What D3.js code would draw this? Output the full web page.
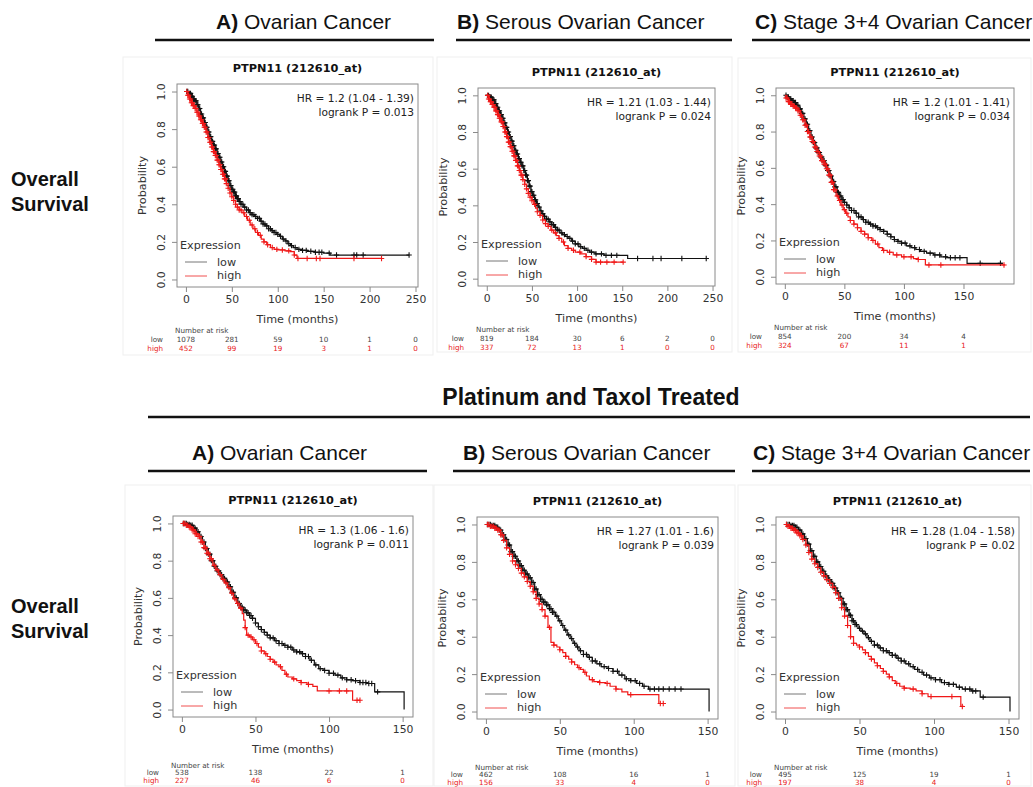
<!DOCTYPE html>
<html>
<head>
<meta charset="utf-8">
<script src="https://cdn.jsdelivr.net/npm/d3@7"></script>
<style>
  body { margin: 0; background: #fff; }
  svg { display: block; }
</style>
</head>
<body>
<svg id="fig" width="1033" height="787"></svg>
<script>
// ---------------- data ----------------
const cohortLabels = [["A)", " Ovarian Cancer"], ["B)", " Serous Ovarian Cancer"], ["C)", " Stage 3+4 Ovarian Cancer"]];
const treatmentLabel = "Platinum and Taxol Treated";
const endpointLabel = ["Overall", "Survival"];
const probeTitle = "PTPN11 (212610_at)";
const groupNames = ["low", "high"];

const yTicks = [0, 0.2, 0.4, 0.6, 0.8, 1.0];
const xTicksLong = [0, 50, 100, 150, 200, 250];
const xTicksShort = [0, 50, 100, 150];

const hrLabels = [
  "HR = 1.2 (1.04 - 1.39)", "HR = 1.21 (1.03 - 1.44)", "HR = 1.2 (1.01 - 1.41)",
  "HR = 1.3 (1.06 - 1.6)", "HR = 1.27 (1.01 - 1.6)", "HR = 1.28 (1.04 - 1.58)"
];
const pLabels = [
  "logrank P = 0.013", "logrank P = 0.024", "logrank P = 0.034",
  "logrank P = 0.011", "logrank P = 0.039", "logrank P = 0.02"
];

// number at risk, one entry per x tick
const osAllRiskLow = [1078, 281, 59, 10, 1, 0];
const osAllRiskHigh = [452, 99, 19, 3, 1, 0];
const osSerousRiskLow = [819, 184, 30, 6, 2, 0];
const osSerousRiskHigh = [337, 72, 13, 1, 0, 0];
const osStageRiskLow = [854, 200, 34, 4];
const osStageRiskHigh = [324, 67, 11, 1];
const ptAllRiskLow = [538, 138, 22, 1];
const ptAllRiskHigh = [227, 46, 6, 0];
const ptSerousRiskLow = [462, 108, 16, 1];
const ptSerousRiskHigh = [156, 33, 4, 0];
const ptStageRiskLow = [495, 125, 19, 1];
const ptStageRiskHigh = [197, 38, 4, 0];

// Kaplan-Meier steps: [time in months, survival after that time]
const osAllLow = [[0,1],[3,0.99],[6,0.975],[8,0.96],[10,0.95],[12,0.93],[14,0.91],[16,0.88],[18,0.86],[20,0.835],[22,0.81],[24,0.785],[26,0.76],[28,0.735],[30,0.715],[32,0.695],[34,0.67],[36,0.65],[38,0.625],[40,0.6],[42,0.575],[44,0.55],[46,0.525],[48,0.5],[50,0.48],[52,0.465],[54,0.445],[56,0.43],[58,0.415],[60,0.4],[63,0.385],[66,0.37],[69,0.355],[72,0.345],[75,0.335],[78,0.325],[81,0.31],[84,0.295],[87,0.285],[90,0.27],[93,0.26],[96,0.25],[99,0.24],[102,0.23],[105,0.215],[108,0.205],[111,0.19],[114,0.18],[117,0.17],[121,0.16],[126,0.155],[132,0.15],[140,0.145],[150,0.14],[157,0.13]];
const osAllHigh = [[0,1],[2,0.98],[4,0.96],[6,0.94],[8,0.925],[10,0.91],[12,0.89],[14,0.87],[16,0.85],[18,0.83],[20,0.81],[22,0.785],[24,0.755],[26,0.73],[28,0.705],[30,0.68],[32,0.66],[34,0.635],[36,0.61],[38,0.585],[40,0.56],[42,0.535],[44,0.51],[46,0.485],[48,0.46],[50,0.44],[52,0.42],[54,0.4],[56,0.385],[58,0.37],[61,0.355],[64,0.335],[67,0.315],[70,0.29],[73,0.27],[76,0.25],[79,0.235],[82,0.215],[85,0.2],[88,0.185],[92,0.17],[96,0.16],[100,0.157],[108,0.152],[114,0.148],[118,0.13],[121,0.112]];
const osSerousLow = [[0,1],[3,0.99],[6,0.975],[9,0.955],[11,0.935],[13,0.915],[15,0.895],[17,0.875],[19,0.85],[21,0.825],[23,0.8],[25,0.775],[27,0.75],[29,0.725],[31,0.7],[33,0.68],[35,0.655],[37,0.635],[39,0.615],[41,0.59],[43,0.565],[45,0.535],[47,0.505],[49,0.475],[51,0.455],[53,0.43],[55,0.41],[57,0.39],[59,0.37],[61,0.355],[63,0.34],[66,0.325],[69,0.31],[72,0.295],[75,0.28],[78,0.265],[81,0.25],[84,0.24],[87,0.23],[90,0.22],[94,0.205],[98,0.19],[102,0.175],[106,0.165],[110,0.155],[114,0.145],[120,0.135],[130,0.127],[156,0.11]];
const osSerousHigh = [[0,1],[2,0.98],[4,0.965],[6,0.95],[8,0.935],[10,0.915],[12,0.895],[14,0.875],[16,0.855],[18,0.83],[20,0.8],[22,0.775],[24,0.745],[26,0.72],[28,0.695],[30,0.67],[32,0.645],[34,0.615],[36,0.59],[38,0.565],[40,0.54],[42,0.515],[44,0.49],[46,0.465],[48,0.445],[50,0.425],[52,0.405],[54,0.385],[56,0.365],[59,0.345],[62,0.32],[65,0.3],[68,0.285],[71,0.265],[74,0.25],[77,0.235],[80,0.22],[83,0.2],[86,0.18],[90,0.165],[94,0.155],[98,0.145],[104,0.135],[110,0.12],[116,0.105],[121,0.09]];
const osStageLow = [[0,1],[2,0.99],[4,0.98],[6,0.97],[8,0.96],[10,0.945],[12,0.925],[14,0.9],[16,0.87],[18,0.84],[20,0.805],[22,0.77],[24,0.74],[26,0.71],[28,0.685],[30,0.66],[32,0.64],[34,0.615],[36,0.585],[38,0.555],[40,0.525],[42,0.495],[44,0.465],[46,0.445],[48,0.425],[50,0.41],[52,0.395],[54,0.38],[56,0.365],[59,0.35],[62,0.33],[65,0.315],[68,0.3],[71,0.29],[74,0.28],[77,0.27],[80,0.26],[83,0.25],[86,0.235],[89,0.22],[92,0.205],[95,0.195],[98,0.185],[102,0.17],[106,0.16],[110,0.15],[114,0.14],[119,0.13],[125,0.12],[131,0.11],[136,0.105],[153,0.074]];
const osStageHigh = [[0,1],[1,0.985],[3,0.965],[5,0.95],[7,0.94],[9,0.93],[11,0.915],[13,0.89],[15,0.865],[17,0.835],[19,0.8],[21,0.77],[23,0.745],[25,0.715],[27,0.69],[29,0.665],[31,0.64],[33,0.62],[35,0.595],[37,0.56],[39,0.52],[41,0.48],[43,0.445],[45,0.42],[47,0.395],[49,0.37],[51,0.35],[53,0.33],[55,0.31],[58,0.29],[61,0.27],[64,0.25],[67,0.235],[70,0.215],[73,0.2],[76,0.18],[79,0.16],[82,0.145],[86,0.135],[91,0.12],[98,0.11],[108,0.1],[112,0.095],[118,0.065]];
const ptAllLow = [[0,1],[4,0.995],[6,0.99],[8,0.975],[10,0.955],[12,0.93],[14,0.9],[16,0.865],[18,0.835],[20,0.8],[22,0.77],[24,0.745],[26,0.725],[28,0.705],[30,0.685],[32,0.66],[34,0.63],[36,0.6],[38,0.57],[40,0.55],[42,0.535],[44,0.52],[46,0.505],[48,0.49],[50,0.465],[52,0.445],[54,0.43],[56,0.415],[58,0.4],[60,0.385],[63,0.37],[66,0.355],[69,0.345],[72,0.335],[75,0.32],[78,0.31],[81,0.3],[84,0.285],[87,0.265],[90,0.24],[93,0.22],[96,0.21],[100,0.195],[104,0.185],[108,0.17],[112,0.16],[116,0.155],[121,0.145],[126,0.14],[131,0.095],[151,0]];
const ptAllHigh = [[0,1],[3,0.99],[5,0.98],[7,0.965],[9,0.945],[11,0.93],[13,0.9],[15,0.87],[17,0.84],[19,0.81],[21,0.775],[23,0.75],[25,0.725],[27,0.7],[29,0.68],[31,0.655],[33,0.625],[35,0.595],[37,0.57],[39,0.545],[41,0.515],[42,0.48],[43,0.44],[44,0.4],[46,0.39],[48,0.375],[50,0.355],[52,0.335],[54,0.315],[56,0.3],[58,0.285],[60,0.27],[62,0.255],[64,0.24],[66,0.23],[68,0.21],[70,0.19],[72,0.175],[75,0.165],[78,0.155],[81,0.145],[85,0.135],[89,0.125],[92,0.1],[116,0.05]];
const ptSerousLow = [[0,1],[4,0.995],[7,0.985],[9,0.97],[11,0.945],[13,0.92],[15,0.89],[17,0.855],[19,0.83],[21,0.805],[23,0.78],[25,0.755],[27,0.735],[29,0.715],[31,0.69],[33,0.655],[35,0.625],[37,0.6],[39,0.585],[41,0.57],[43,0.55],[45,0.53],[47,0.51],[49,0.485],[51,0.46],[53,0.435],[55,0.41],[57,0.39],[59,0.365],[61,0.345],[63,0.325],[66,0.305],[69,0.29],[72,0.27],[75,0.255],[78,0.24],[82,0.23],[86,0.215],[90,0.195],[94,0.175],[98,0.165],[102,0.15],[106,0.135],[110,0.12],[151,0]];
const ptSerousHigh = [[0,1],[3,0.99],[6,0.98],[8,0.97],[10,0.945],[12,0.915],[14,0.875],[16,0.84],[18,0.805],[20,0.785],[22,0.765],[24,0.74],[26,0.72],[28,0.695],[30,0.67],[32,0.64],[34,0.605],[36,0.575],[38,0.545],[40,0.51],[42,0.45],[44,0.37],[46,0.355],[48,0.345],[50,0.33],[52,0.315],[54,0.295],[56,0.28],[58,0.265],[60,0.25],[62,0.235],[64,0.225],[66,0.21],[68,0.19],[70,0.17],[73,0.16],[77,0.155],[81,0.15],[84,0.135],[88,0.12],[92,0.105],[96,0.09],[117,0.043]];
const ptStageLow = [[0,1],[4,0.995],[7,0.985],[9,0.97],[11,0.95],[13,0.925],[15,0.895],[17,0.86],[19,0.83],[21,0.8],[23,0.775],[25,0.75],[27,0.725],[29,0.705],[31,0.685],[33,0.66],[35,0.635],[37,0.605],[39,0.575],[41,0.545],[43,0.515],[45,0.485],[47,0.465],[49,0.445],[51,0.43],[53,0.415],[55,0.395],[57,0.375],[60,0.355],[63,0.34],[66,0.325],[69,0.315],[72,0.3],[75,0.285],[78,0.27],[81,0.255],[84,0.24],[87,0.225],[90,0.21],[93,0.195],[97,0.18],[101,0.17],[105,0.155],[110,0.145],[115,0.13],[119,0.12],[125,0.11],[131,0.077],[151,0]];
const ptStageHigh = [[0,1],[2,0.99],[4,0.98],[6,0.97],[8,0.955],[10,0.94],[12,0.92],[14,0.89],[16,0.85],[18,0.815],[20,0.79],[22,0.77],[24,0.745],[26,0.725],[28,0.705],[30,0.685],[32,0.665],[34,0.635],[36,0.605],[38,0.555],[40,0.51],[42,0.46],[44,0.4],[46,0.365],[48,0.355],[50,0.345],[52,0.33],[54,0.315],[56,0.295],[58,0.28],[60,0.26],[62,0.245],[64,0.23],[66,0.215],[68,0.2],[70,0.185],[72,0.165],[74,0.15],[77,0.135],[80,0.125],[84,0.12],[88,0.11],[92,0.095],[96,0.08],[118,0.027]];

// last follow-up time of each curve (months)
const curveEnds = {
  osAllLow: 243, osAllHigh: 213, osSerousLow: 243, osSerousHigh: 151,
  osStageLow: 183, osStageHigh: 185, ptAllLow: 151, ptAllHigh: 121,
  ptSerousLow: 151, ptSerousHigh: 121, ptStageLow: 151, ptStageHigh: 120
};

// censoring times (months)
const osAllLowCensor = [1,2,3,4,5,6,7,8,9,10,11,12,13,14,15,16,17,18,19,20,21,22,23,24,25,26,27,28,29,30,31,32,33,34,35,36,37,38,39,40,41,42,43,44,45,46,47,48,49,50,51,52,53,54,55,56,57,58,59,60,62,64,66,68,70,72,74,76,78,80,82,84,86,88,90,92,94,96,98,100,103,106,109,112,115,119,123,127,131,136,141,145,148,156,164,183,186,193,243];
const osAllHighCensor = [1,2,3,4,5,6,7,8,9,10,11,12,13,14,15,16,17,18,19,20,21,22,23,24,25,26,27,28,29,30,31,32,33,34,35,36,37,38,39,40,41,42,43,44,46,48,50,52,54,56,58,60,63,66,69,72,75,78,81,85,89,94,99,105,112,118,122,132,142,146,183,213];
const osSerousLowCensor = [1,2,3,4,5,6,7,8,9,10,11,12,13,14,15,16,17,18,19,20,21,22,23,24,25,26,27,28,29,30,31,32,33,34,35,36,37,38,39,40,41,42,43,44,45,46,47,48,49,50,51,52,53,54,55,56,58,60,62,64,66,68,70,72,74,76,78,80,83,86,89,92,95,98,101,104,108,112,116,121,127,132,138,144,167,184,193,216,243];
const osSerousHighCensor = [1,2,3,4,5,6,7,8,9,10,11,12,13,14,15,16,17,18,19,20,21,22,23,24,25,26,27,28,29,30,31,32,33,34,35,36,37,38,39,40,42,44,46,48,50,53,56,59,62,65,68,72,76,80,85,90,96,103,110,116,121,126,133,141,151];
const osStageLowCensor = [1,2,3,4,5,6,7,8,9,10,11,12,13,14,15,16,17,18,19,20,21,22,23,24,25,26,27,28,29,30,31,32,33,34,35,36,37,38,39,40,41,42,43,44,45,46,47,48,49,50,52,54,56,58,60,62,64,66,68,70,72,74,76,78,80,83,86,89,92,95,98,101,105,109,113,117,122,126,130,135,139,143,147,164,181];
const osStageHighCensor = [1,2,3,4,5,6,7,8,9,10,11,12,13,14,15,16,17,18,19,20,21,22,23,24,25,26,27,28,29,30,31,32,33,34,35,36,37,38,39,40,41,42,44,46,48,50,52,55,58,61,64,67,70,74,78,83,88,94,100,106,112,121,131,184];
const ptAllLowCensor = [1,2,3,4,5,6,7,8,9,10,11,12,13,14,15,16,17,18,19,20,21,22,23,24,25,26,27,28,29,30,31,32,33,34,35,36,37,38,39,40,41,42,43,44,45,46,47,48,50,52,54,56,58,60,62,64,66,68,70,72,74,76,78,80,82,84,86,88,91,94,97,100,103,106,109,112,115,118,121,123,125,127,129,133];
const ptAllHighCensor = [1,2,3,4,5,6,7,8,9,10,11,12,13,14,15,16,17,18,19,20,22,24,26,28,30,32,34,36,38,40,43,45,47,49,51,54,57,60,63,67,71,76,81,86,100,107,112,119,121];
const ptSerousLowCensor = [1,2,3,4,5,6,7,8,9,10,11,12,13,14,15,16,17,18,19,20,21,22,23,24,25,26,27,28,29,30,31,32,33,34,35,36,37,38,39,40,41,42,43,44,45,46,48,50,52,54,56,58,60,62,64,66,68,70,72,74,77,80,83,86,89,92,95,98,101,104,107,111,114,117,120,124,128,132];
const ptSerousHighCensor = [1,2,3,4,5,6,7,8,9,10,11,12,14,16,18,20,22,24,26,28,30,32,34,36,38,40,43,46,50,54,58,63,67,72,77,82,88,98,118,120];
const ptStageLowCensor = [1,2,3,4,5,6,7,8,9,10,11,12,13,14,15,16,17,18,19,20,21,22,23,24,25,26,27,28,29,30,31,32,33,34,35,36,37,38,39,40,41,42,43,44,45,46,47,48,50,52,54,56,58,60,62,64,66,68,70,72,74,76,78,80,83,86,89,92,95,98,101,104,107,110,113,117,121,124,126,128,133];
const ptStageHighCensor = [1,2,3,4,5,6,7,8,9,10,11,12,14,16,18,20,22,24,26,28,30,32,34,36,38,40,42,44,46,50,54,58,62,66,70,75,80,86,92,98,112,119];

// ---------------- panel assembly ----------------
const panels = [
  { low: osAllLow, high: osAllHigh, lowEnd: curveEnds.osAllLow, highEnd: curveEnds.osAllHigh,
    lowCensor: osAllLowCensor, highCensor: osAllHighCensor, riskLow: osAllRiskLow, riskHigh: osAllRiskHigh, ticks: xTicksLong },
  { low: osSerousLow, high: osSerousHigh, lowEnd: curveEnds.osSerousLow, highEnd: curveEnds.osSerousHigh,
    lowCensor: osSerousLowCensor, highCensor: osSerousHighCensor, riskLow: osSerousRiskLow, riskHigh: osSerousRiskHigh, ticks: xTicksLong },
  { low: osStageLow, high: osStageHigh, lowEnd: curveEnds.osStageLow, highEnd: curveEnds.osStageHigh,
    lowCensor: osStageLowCensor, highCensor: osStageHighCensor, riskLow: osStageRiskLow, riskHigh: osStageRiskHigh, ticks: xTicksShort },
  { low: ptAllLow, high: ptAllHigh, lowEnd: curveEnds.ptAllLow, highEnd: curveEnds.ptAllHigh,
    lowCensor: ptAllLowCensor, highCensor: ptAllHighCensor, riskLow: ptAllRiskLow, riskHigh: ptAllRiskHigh, ticks: xTicksShort },
  { low: ptSerousLow, high: ptSerousHigh, lowEnd: curveEnds.ptSerousLow, highEnd: curveEnds.ptSerousHigh,
    lowCensor: ptSerousLowCensor, highCensor: ptSerousHighCensor, riskLow: ptSerousRiskLow, riskHigh: ptSerousRiskHigh, ticks: xTicksShort },
  { low: ptStageLow, high: ptStageHigh, lowEnd: curveEnds.ptStageLow, highEnd: curveEnds.ptStageHigh,
    lowCensor: ptStageLowCensor, highCensor: ptStageHighCensor, riskLow: ptStageRiskLow, riskHigh: ptStageRiskHigh, ticks: xTicksShort }
];
panels.forEach((p, i) => { p.hr = hrLabels[i]; p.pval = pLabels[i]; });

// ---------------- layout ----------------
const boxes = [
  { left: 177, top: 84, right: 418, bottom: 287, frame: [123, 57, 433, 355], risk: [46, 55, 64] },
  { left: 478, top: 88, right: 715, bottom: 286, frame: [437, 57, 732, 352], risk: [46, 55, 64] },
  { left: 776, top: 88, right: 1014, bottom: 284, frame: [738, 58, 1031, 352], risk: [46, 55, 64] },
  { left: 173, top: 516, right: 413, bottom: 717, frame: [125, 485, 433, 786], risk: [51, 58, 66] },
  { left: 477, top: 517, right: 718, bottom: 719, frame: [434, 485, 735, 786], risk: [51, 58, 66] },
  { left: 776, top: 517, right: 1019, bottom: 719, frame: [738, 485, 1031, 786], risk: [51, 58, 66] }
];
const headerRows = [
  { baseline: 29, lineY: 40, starts: [216, 457, 755], lines: [[155, 434], [456, 732], [752, 1030]] },
  { baseline: 460, lineY: 471, starts: [192, 463, 753], lines: [[148, 427], [453, 735], [752, 1030]] }
];

const RFONT = "'DejaVu Sans', 'Liberation Sans', sans-serif";
const HFONT = "'Liberation Sans', Arial, Helvetica, sans-serif";
const COL_LOW = "#111";
const COL_HIGH = "#f01818";
const AXIS_COL = "#8a8a8a";
const TEXT_COL = "#333";

const svg = d3.select("#fig");

// ---------------- headers ----------------
headerRows.forEach(row => {
  cohortLabels.forEach((lab, j) => {
    const t = svg.append("text")
      .attr("x", row.starts[j]).attr("y", row.baseline)
      .attr("font-family", HFONT).attr("font-size", 21).attr("fill", "#111");
    t.append("tspan").attr("font-weight", "bold").text(lab[0]);
    t.append("tspan").text(lab[1]);
    svg.append("line")
      .attr("x1", row.lines[j][0]).attr("x2", row.lines[j][1])
      .attr("y1", row.lineY).attr("y2", row.lineY)
      .attr("stroke", "#111").attr("stroke-width", 2.6);
  });
});

svg.append("text")
  .attr("x", 591).attr("y", 405).attr("text-anchor", "middle")
  .attr("font-family", HFONT).attr("font-size", 23).attr("font-weight", "bold").attr("fill", "#111")
  .text(treatmentLabel);
svg.append("line").attr("x1", 148).attr("x2", 1030).attr("y1", 417).attr("y2", 417)
  .attr("stroke", "#111").attr("stroke-width", 2.6);

[[186, 211], [613, 638]].forEach(ys => {
  endpointLabel.forEach((w, k) => {
    svg.append("text").attr("x", 11).attr("y", ys[k])
      .attr("font-family", HFONT).attr("font-size", 20).attr("font-weight", "bold").attr("fill", "#111")
      .text(w);
  });
});

// ---------------- survival panels ----------------
function survivalAt(curve, t) {
  let s = 1;
  for (const [ti, si] of curve) { if (ti <= t) s = si; else break; }
  return s;
}

panels.forEach((p, i) => {
  const b = boxes[i];
  const g = svg.append("g");

  // faint outline of the exported plot image
  g.append("rect")
    .attr("x", b.frame[0]).attr("y", b.frame[1])
    .attr("width", b.frame[2] - b.frame[0]).attr("height", b.frame[3] - b.frame[1])
    .attr("fill", "none").attr("stroke", "#efefef").attr("stroke-width", 1);

  const xMax = Math.max(p.lowEnd, p.highEnd);
  const x = d3.scaleLinear().domain([-0.04 * xMax, 1.04 * xMax]).range([b.left, b.right]);
  const y = d3.scaleLinear().domain([-0.04, 1.04]).range([b.bottom, b.top]);
  const cx = (b.left + b.right) / 2;
  const cy = (b.top + b.bottom) / 2;

  // title
  g.append("text").attr("x", cx).attr("y", b.top - 12).attr("text-anchor", "middle")
    .attr("font-family", RFONT).attr("font-weight", "bold").attr("font-size", 11.3).attr("fill", "#111")
    .text(probeTitle);

  // x axis
  const xa = g.append("g").attr("transform", `translate(0,${b.bottom})`)
    .call(d3.axisBottom(x).tickValues(p.ticks).tickFormat(d3.format("d")).tickSize(5).tickSizeOuter(0).tickPadding(3));
  // y axis
  const ya = g.append("g").attr("transform", `translate(${b.left},0)`)
    .call(d3.axisLeft(y).tickValues(yTicks).tickFormat(d3.format(".1f")).tickSize(5).tickSizeOuter(0));
  [xa, ya].forEach(a => {
    a.select(".domain").remove();
    a.selectAll(".tick line").attr("stroke", AXIS_COL);
    a.selectAll("text").attr("font-family", RFONT).attr("font-size", 10.8).attr("fill", TEXT_COL);
  });
  ya.selectAll(".tick text")
    .attr("x", null).attr("dy", null).attr("text-anchor", "middle")
    .attr("transform", "translate(-12,0) rotate(-90)");

  // plot box
  g.append("rect").attr("x", b.left).attr("y", b.top)
    .attr("width", b.right - b.left).attr("height", b.bottom - b.top)
    .attr("fill", "none").attr("stroke", AXIS_COL).attr("stroke-width", 1);

  // axis titles
  g.append("text").attr("x", cx).attr("y", b.bottom + 36).attr("text-anchor", "middle")
    .attr("font-family", RFONT).attr("font-size", 11.2).attr("fill", TEXT_COL).text("Time (months)");
  g.append("text").attr("transform", `translate(${b.left - 31},${cy}) rotate(-90)`).attr("text-anchor", "middle")
    .attr("font-family", RFONT).attr("font-size", 11.2).attr("fill", TEXT_COL).text("Probability");

  // curves with censoring ticks
  const line = d3.line().x(d => x(d[0])).y(d => y(d[1])).curve(d3.curveStepAfter);
  const series = [
    { curve: p.low, end: p.lowEnd, censor: p.lowCensor, color: COL_LOW },
    { curve: p.high, end: p.highEnd, censor: p.highCensor, color: COL_HIGH }
  ];
  series.forEach(s => {
    const pts = s.curve.concat([[s.end, s.curve[s.curve.length - 1][1]]]);
    g.append("path").attr("d", line(pts)).attr("fill", "none")
      .attr("stroke", s.color).attr("stroke-width", 1.2);
    g.append("g").selectAll("path").data(s.censor).join("path")
      .attr("d", t => {
        const px = x(t), py = y(survivalAt(s.curve, t));
        return `M${px - 2.7},${py}h5.4M${px},${py - 2.7}v5.4`;
      })
      .attr("stroke", s.color).attr("stroke-width", 1.1).attr("fill", "none");
  });

  // statistics
  g.append("text").attr("x", b.right - 4).attr("y", b.top + 18).attr("text-anchor", "end")
    .attr("font-family", RFONT).attr("font-size", 10.6).attr("fill", "#222").text(p.hr);
  g.append("text").attr("x", b.right - 4).attr("y", b.top + 32).attr("text-anchor", "end")
    .attr("font-family", RFONT).attr("font-size", 10.6).attr("fill", "#222").text(p.pval);

  // legend
  g.append("text").attr("x", b.left + 3).attr("y", b.bottom - 38)
    .attr("font-family", RFONT).attr("font-size", 11.2).attr("fill", TEXT_COL).text("Expression");
  [[COL_LOW, 25, 21, groupNames[0]], [COL_HIGH, 11, 8, groupNames[1]]].forEach(([c, ly, ty, name]) => {
    g.append("line").attr("x1", b.left + 8).attr("x2", b.left + 30)
      .attr("y1", b.bottom - ly).attr("y2", b.bottom - ly)
      .attr("stroke", c === COL_LOW ? "#777" : "#f05050").attr("stroke-width", 1);
    g.append("text").attr("x", b.left + 40).attr("y", b.bottom - ty)
      .attr("font-family", RFONT).attr("font-size", 11.2).attr("fill", TEXT_COL).text(name);
  });

  // number at risk table
  g.append("text").attr("x", b.left - 2).attr("y", b.bottom + b.risk[0])
    .attr("font-family", RFONT).attr("font-size", 7.2).attr("fill", "#444").text("Number at risk");
  [[p.riskLow, "#444", groupNames[0], b.risk[1]], [p.riskHigh, "#e82020", groupNames[1], b.risk[2]]]
    .forEach(([vals, c, name, off]) => {
      g.append("text").attr("x", b.left - 14).attr("y", b.bottom + off).attr("text-anchor", "end")
        .attr("font-family", RFONT).attr("font-size", 7.2).attr("fill", c).text(name);
      g.append("g").selectAll("text").data(vals).join("text")
        .attr("x", (v, k) => x(p.ticks[k])).attr("y", b.bottom + off).attr("text-anchor", "middle")
        .attr("font-family", RFONT).attr("font-size", 7.2).attr("fill", c).text(v => v);
    });
});
</script>
</body>
</html>
